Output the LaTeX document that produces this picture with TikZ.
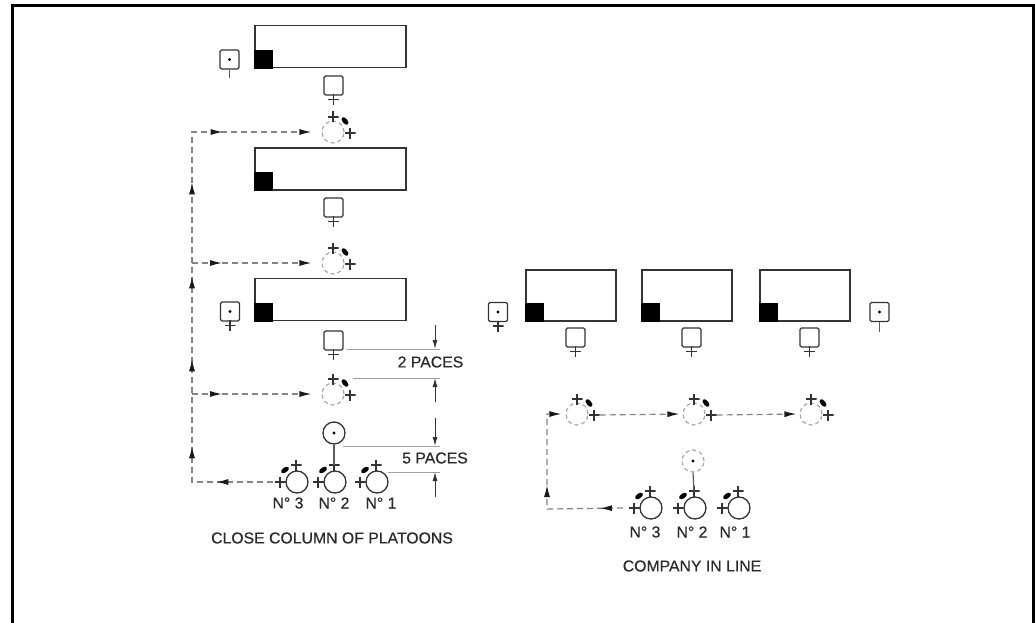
\documentclass[tikz,border=0pt]{standalone}
\usepackage{fontspec}
\setmainfont{Liberation Sans}[FakeBold=0.4]
\usetikzlibrary{arrows.meta,shapes.geometric,decorations.markings,calc}
\definecolor{ink}{HTML}{333333}
\definecolor{txtcol}{HTML}{2A2A2A}
\definecolor{dashcol}{HTML}{858585}
\definecolor{ghostcol}{HTML}{A8A8A8}
\definecolor{dimcol}{HTML}{A0A0A0}
\definecolor{tipcol}{HTML}{1A1A1A}
\newcommand\routetip{\arrow[tipcol]{Latex[length=12pt,width=6pt]}}
\tikzset{
  bigrect/.style={rectangle, draw=ink, line width=1.5pt, inner sep=0pt},
  colrect/.style={bigrect, minimum width=151pt, minimum height=42pt},
  linerect/.style={bigrect, minimum width=90pt, minimum height=51pt},
  flagsq/.style={rectangle, fill=black, draw=black, line width=0.4pt, minimum size=18pt, inner sep=0pt, anchor=south west},
  offsq/.style={rectangle, draw=ink, line width=1.3pt, rounded corners=1.5pt, minimum size=19pt, inner sep=0pt},
  dotmark/.style={circle, fill=black, minimum size=3.2pt, inner sep=0pt},
  crossmk/.style={rectangle, minimum size=11pt, inner sep=0pt,
    path picture={\draw[ink, line width=1.2pt] (path picture bounding box.north) -- (path picture bounding box.south)
      (path picture bounding box.west) -- (path picture bounding box.east);}},
  mancirc/.style={circle, draw=ink, line width=1.3pt, minimum size=22pt, inner sep=0pt},
  ghostcirc/.style={circle, draw=ghostcol, line width=1.2pt, dash pattern=on 4pt off 3pt, minimum size=22pt, inner sep=0pt},
  leafmk/.style={ellipse, fill=black, minimum width=9pt, minimum height=5pt, inner sep=0pt},
  stem/.style={draw=ink!80, line width=1.2pt},
  route/.style={draw=dashcol, line width=1.2pt, dash pattern=on 6pt off 4pt},
  routeend/.style={route, -{Latex[length=12pt,width=6pt,color=tipcol]}},
  dimline/.style={draw=dimcol, line width=1pt},
  dimarrow/.style={draw=ink, line width=1pt, -{Latex[length=9pt,width=5pt]}},
  lbl/.style={text=txtcol, inner sep=0pt, font=\fontsize{15.8pt}{18pt}\selectfont},
}
% solid soldier facing up: name, x, y
\newcommand\soldier[3]{%
  \node[mancirc] (#1) at (#2,#3) {};
  \node[crossmk] (#1-t) at ({#2-1},{#3-17}) {};
  \node[crossmk] (#1-w) at ({#2-17},#3) {};
  \node[leafmk, rotate=35] (#1-l) at ({#2-12},{#3-12}) {};
}
% dashed soldier: name, x, y
\newcommand\ghostman[3]{%
  \node[ghostcirc] (#1) at (#2,#3) {};
  \node[crossmk] (#1-t) at (#2,{#3-15}) {};
  \node[crossmk] (#1-r) at ({#2+17},{#3+1}) {};
  \node[leafmk, rotate=-50] (#1-l) at ({#2+12},{#3-11}) {};
}
\begin{document}
\begin{tikzpicture}[x=1pt, y=-1pt]
\fill[white] (0,0) rectangle (1035,623);
\useasboundingbox (0,0) rectangle (1035,623);
% frame
\coordinate (fa) at (12,623);
\coordinate (fb) at (12,5.3);
\coordinate (fc) at (1033.5,5.3);
\coordinate (fd) at (1033.5,623);
\draw[line width=3pt, black] (fa) -- (fb) -- (fc) -- (fd);

% ===== close column of platoons =====
\node[colrect] (r1) at (330.5,46.5) {};
\node[flagsq] (f1) at (r1.south west) {};
\node[colrect] (r2) at (330.5,169) {};
\node[flagsq] (f2) at (r2.south west) {};
\node[colrect] (r3) at (330.5,299.5) {};
\node[flagsq] (f3) at (r3.south west) {};

\node[offsq] (o1) at (333.5,85.5) {};
\node[crossmk] (o1x) at (333.5,99.5) {};
\node[offsq] (o2) at (333.5,207.5) {};
\node[crossmk] (o2x) at (333.5,221.5) {};
\node[offsq] (o3) at (333.5,340.5) {};
\node[crossmk] (o3x) at (333.5,354.5) {};

\node[offsq] (p1) at (229.5,59.5) {};
\node[dotmark] (p1d) at (p1) {};
\coordinate (p1e) at (229.5,78);
\draw[stem] (p1.south) -- (p1e);
\node[offsq] (p2) at (230,311.5) {};
\node[dotmark] (p2d) at (p2) {};
\node[crossmk] (p2x) at (230,325.5) {};

\ghostman{g1}{333}{132}
\ghostman{g2}{333}{263}
\ghostman{g3}{333}{394}

\node[mancirc] (dc) at (334,433) {};
\node[dotmark] (dcd) at (dc) {};
\soldier{m3}{297}{482}
\soldier{m2}{335}{482}
\soldier{m1}{377}{482}
\draw[stem] (dc.south) -- (m2-t.center);

\node[lbl] (l3) at (288,503) {N° 3};
\node[lbl] (l2) at (334,503) {N° 2};
\node[lbl] (l1) at (381,503) {N° 1};
\node[lbl] (ccp) at (332,538) {CLOSE COLUMN OF PLATOONS};

% routes (left)
\coordinate (lc1) at (192,482);
\coordinate (lc2) at (192,132);
\coordinate (lc3) at (192,263);
\coordinate (lc4) at (192,394);
\draw[routeend, postaction={decorate}, decoration={markings,
   mark=at position 57pt with {\routetip},
   mark=at position 117pt with {\routetip},
   mark=at position 204pt with {\routetip},
   mark=at position 287pt with {\routetip},
   mark=at position 381pt with {\routetip},
   mark=at position 462pt with {\routetip}}]
  ([xshift=-1pt]m3-w.west) -- (lc1) -- (lc2) -- ([xshift=-10pt]g1.west);
\draw[routeend, postaction={decorate}, decoration={markings, mark=at position 30pt with {\routetip}}]
  (lc3) -- ([xshift=-10pt]g2.west);
\draw[routeend, postaction={decorate}, decoration={markings, mark=at position 30pt with {\routetip}}]
  (lc4) -- ([xshift=-10pt]g3.west);

% dimensions
\coordinate (d1a) at (347,349);  \coordinate (d1b) at (440,349);
\coordinate (d2a) at (353,378);  \coordinate (d2b) at (440,378);
\coordinate (d3a) at (343,446);  \coordinate (d3b) at (440,446);
\coordinate (d4a) at (388,472);  \coordinate (d4b) at (440,472);
\draw[dimline] (d1a) -- (d1b);
\draw[dimline] (d2a) -- (d2b);
\draw[dimline] (d3a) -- (d3b);
\draw[dimline] (d4a) -- (d4b);
\coordinate (a1s) at (435,325); \coordinate (a1e) at (435,349);
\coordinate (a2s) at (435,402); \coordinate (a2e) at (435,378);
\coordinate (a3s) at (435,418); \coordinate (a3e) at (435,446);
\coordinate (a4s) at (435,497); \coordinate (a4e) at (435,472);
\draw[dimarrow] (a1s) -- (a1e);
\draw[dimarrow] (a2s) -- (a2e);
\draw[dimarrow] (a3s) -- (a3e);
\draw[dimarrow] (a4s) -- (a4e);
\node[lbl] (t2p) at (430.5,362) {2 PACES};
\node[lbl] (t5p) at (435,458) {5 PACES};

% ===== company in line =====
\node[offsq] (q1) at (498,312) {};
\node[dotmark] (q1d) at (q1) {};
\node[crossmk] (q1x) at (498,326) {};
\node[offsq] (q2) at (879.5,312) {};
\node[dotmark] (q2d) at (q2) {};
\coordinate (q2e) at (879.5,332);
\draw[stem] (q2.south) -- (q2e);

\node[linerect] (rr1) at (571,295.5) {};
\node[flagsq] (ff1) at (rr1.south west) {};
\node[linerect] (rr2) at (687,295.5) {};
\node[flagsq] (ff2) at (rr2.south west) {};
\node[linerect] (rr3) at (805,295.5) {};
\node[flagsq] (ff3) at (rr3.south west) {};

\node[offsq] (s1) at (575.5,337.5) {};
\node[crossmk] (s1x) at (575.5,351.5) {};
\node[offsq] (s2) at (691.5,337.5) {};
\node[crossmk] (s2x) at (691.5,351.5) {};
\node[offsq] (s3) at (809.5,337.5) {};
\node[crossmk] (s3x) at (809.5,351.5) {};

\ghostman{gr1}{577}{414}
\ghostman{gr2}{694}{414}
\ghostman{gr3}{811}{414}

\node[ghostcirc] (gd) at (693,461) {};
\node[dotmark] (gdd) at (gd) {};
\soldier{n3}{651}{508}
\soldier{n2}{695}{508}
\soldier{n1}{739}{508}
\draw[stem] (gd.south) -- (n2-t.center);

\node[lbl] (k3) at (645,532) {N° 3};
\node[lbl] (k2) at (692,532) {N° 2};
\node[lbl] (k1) at (735,532) {N° 1};
\node[lbl] (cil) at (692,566) {COMPANY IN LINE};

\coordinate (rc1) at (547,509);
\coordinate (rc2) at (547,414);
\draw[routeend, postaction={decorate}, decoration={markings,
   mark=at position 23pt with {\routetip},
   mark=at position 100pt with {\routetip}}]
  ([xshift=-11pt]n3-w.center) -- (rc1) -- (rc2) -- ([xshift=-4pt]gr1.west);
\draw[routeend] (gr1-r.east) -- ([xshift=-3pt]gr2.west);
\draw[routeend] (gr2-r.east) -- ([xshift=-3pt]gr3.west);
\end{tikzpicture}
\end{document}
